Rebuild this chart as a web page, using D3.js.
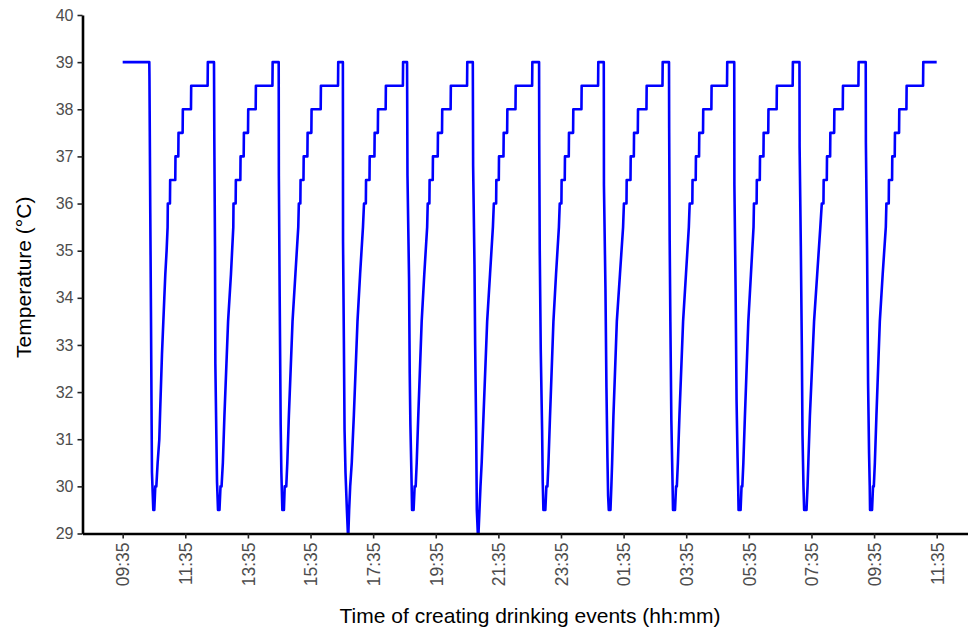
<!DOCTYPE html>
<html>
<head>
<meta charset="utf-8">
<script src="https://cdn.jsdelivr.net/npm/d3@7"></script>
<style>
  body { margin: 0; background: #fff; }
  text { font-family: "Liberation Sans", Arial, Helvetica, sans-serif; }
</style>
</head>
<body>
<svg id="chart" width="968" height="630"></svg>
<script>
// Body temperature around repeated drinking events (cold water intake).
// First reading of the record.
const startClock = "09:35";
const startTemp = 39;

// Clock time of each drinking event (record crosses midnight once).
const eventClocks = ["10:26", "12:30", "14:34", "16:37", "18:40", "20:46",
                     "22:53", "00:57", "03:02", "05:07", "07:12", "09:19"];

// Readings after each event: [minutes after event, temperature °C].
const cycle01 = [[0,39],[0.3,38.7],[1.9,35.8],[3.2,33.7],[4.5,31.3],[5.1,30.3],[7.7,29.5],[9.6,29.5],[11.5,30],[13.5,30],[16,30.5],[19.2,31],[21.1,31.7],[24.3,32.8],[28.8,34],[30.7,34.5],[33.2,35],[35.1,35.5],[35.5,36],[39.6,36],[40,36.5],[49.8,36.5],[50.2,37],[55.6,37],[56,37.5],[63.9,37.5],[64.3,38],[79.9,38],[80.3,38.5],[111.8,38.5],[112.2,39]];
const cycle02 = [[0,39],[0.6,37.4],[1.9,35.1],[2.6,32.6],[4.5,31.1],[5.8,30.1],[7.7,29.5],[10.5,29.5],[12.5,30],[14.5,30],[17,30.5],[20,31.5],[27,33.5],[32.5,34.5],[37,35.5],[37.4,36],[41.5,36],[41.9,36.5],[50.5,36.5],[50.9,37],[56.9,37],[57.3,37.5],[65.2,37.5],[65.6,38],[79.9,38],[80.3,38.5],[112,38.5],[112.4,39]];
const cycle03 = [[0,39],[0.3,36.6],[1.9,34.0],[3.8,31.3],[5.1,30.3],[7,29.5],[10,29.5],[11.5,30],[14.5,30],[16.5,30.5],[19.5,31.5],[26.5,33.5],[32,34.5],[37.5,35.5],[38.6,36],[41.5,36],[41.9,36.5],[47.5,36.5],[47.9,37],[55,37],[55.4,37.5],[62.6,37.5],[63,38],[80.5,38],[80.9,38.5],[113.7,38.5],[114.1,39]];
const cycle04 = [[0,39],[0.3,35.2],[1.9,33.1],[3.2,31.2],[5,30.3],[7.7,29.5],[9.6,29],[10.5,29],[12,29.5],[14,30],[17,30.5],[21,31.5],[28,33.5],[33,34.5],[38.5,35.5],[40.5,36],[44,36],[44.4,36.5],[51,36.5],[51.4,37],[60.5,37],[60.9,37.5],[67,37.5],[67.4,38],[82,38],[82.4,38.5],[115,38.5],[115.4,39]];
const cycle05 = [[0,39],[0.8,36.6],[3.8,34.4],[5.1,32.4],[6.4,31.3],[8.3,30.3],[9.6,29.5],[12.5,29.5],[14.5,30],[16.5,30],[18.5,30.5],[21.5,31.5],[28,33.5],[33,34.5],[38.5,35.5],[39.6,36],[42.8,36],[43.2,36.5],[49.2,36.5],[49.6,37],[58.8,37],[59.2,37.5],[67,37.5],[67.4,38],[83.5,38],[83.9,38.5],[115,38.5],[115.4,39]];
const cycle06 = [[0,39],[0.6,36.8],[3.2,34.7],[4.5,33.0],[6.4,31.2],[7.7,29.5],[9.6,29],[10.9,29],[12.8,29.5],[14.7,30],[17,30.5],[20.5,31.5],[27.5,33.5],[33,34.5],[38.5,35.5],[40.3,36],[44.7,36],[45.1,36.5],[49.8,36.5],[50.2,37],[58.8,37],[59.2,37.5],[65.8,37.5],[66.2,38],[81.8,38],[82.2,38.5],[113.7,38.5],[114.1,39]];
const cycle07 = [[0,39],[0.3,37.3],[1.3,35.0],[3.2,32.9],[5.8,31.2],[7,30.1],[8.3,29.5],[12,29.5],[14,30],[16,30],[18,30.5],[21,31.5],[27.5,33.5],[32.5,34.5],[38,35.5],[39.6,36],[42.8,36],[43.2,36.5],[49.2,36.5],[49.6,37],[56.9,37],[57.3,37.5],[65.2,37.5],[65.6,38],[81.2,38],[81.6,38.5],[113.1,38.5],[113.5,39]];
const cycle08 = [[0,39],[0.3,36.4],[3.2,34.2],[5.1,32.1],[7,30.6],[8.3,29.8],[9.6,29.5],[12.8,29.5],[14.5,30],[16,30.5],[18.5,31.5],[25,33.5],[31,34.5],[37,35.5],[38.6,36],[43.5,36],[43.9,36.5],[51.2,36.5],[51.6,37],[57.6,37],[58,37.5],[65.2,37.5],[65.6,38],[81.8,38],[82.2,38.5],[112.5,38.5],[112.9,39]];
const cycle09 = [[0,39],[0.3,37.6],[1.3,35.2],[2.6,33.5],[4.5,31.4],[6.4,30.3],[7.7,29.5],[11.5,29.5],[13.5,30],[15,30],[17,30.5],[20,31.5],[27,33.5],[32.5,34.5],[38,35.5],[39.6,36],[44.7,36],[45.1,36.5],[51.2,36.5],[51.6,37],[57.6,37],[58,37.5],[65.2,37.5],[65.6,38],[81.2,38],[81.6,38.5],[111.2,38.5],[111.6,39]];
const cycle10 = [[0,39],[0.3,36.4],[2.6,34.2],[4.5,31.8],[6.4,30.6],[7.7,29.9],[8.3,29.5],[12.2,29.5],[14,30],[15.5,30],[17.5,30.5],[20.5,31.5],[27,33.5],[32,34.5],[37,35.5],[37.8,36],[42.9,36],[43.3,36.5],[49,36.5],[49.4,37],[56,37],[56.4,37.5],[65.2,37.5],[65.6,38],[81.3,38],[81.7,38.5],[112,38.5],[112.4,39]];
const cycle11 = [[0,39],[0.3,37.2],[2.6,35.1],[4.5,33.0],[5.8,31.1],[7.7,30.0],[9,29.5],[13.5,29.5],[15.5,30],[17,30.5],[20,31.5],[28,33.5],[34,34.5],[40,35.5],[42.8,36],[46,36],[46.4,36.5],[52.4,36.5],[52.8,37],[58.8,37],[59.2,37.5],[66.5,37.5],[66.9,38],[83,38],[83.4,38.5],[113,38.5],[113.4,39]];
const cycle12 = [[0,39],[0.3,37.3],[2.6,35.0],[4.5,32.2],[6.4,30.7],[7.7,30.0],[8.3,29.5],[12.1,29.5],[14,30],[15.5,30],[17.5,30.5],[20.5,31.5],[27,33.5],[32.5,34.5],[38.5,35.5],[39.6,36],[44.1,36],[44.5,36.5],[50.5,36.5],[50.9,37],[55.6,37],[56,37.5],[63.9,37.5],[64.3,38],[78,38],[78.4,38.5],[109.9,38.5],[110.3,39],[136,39]];

const cycles = [cycle01, cycle02, cycle03, cycle04, cycle05, cycle06,
                cycle07, cycle08, cycle09, cycle10, cycle11, cycle12];

// Axis ticks
const xTickLabels = ["09:35", "11:35", "13:35", "15:35", "17:35", "19:35", "21:35",
                     "23:35", "01:35", "03:35", "05:35", "07:35", "09:35", "11:35"];
const yTickValues = [29, 30, 31, 32, 33, 34, 35, 36, 37, 38, 39, 40];

// Turn a list of "HH:MM" clock strings into dates, rolling over at midnight.
function clockSeries(labels) {
  let day = 0, prev = -1;
  return labels.map(s => {
    const [h, m] = s.split(":").map(Number);
    const mins = h * 60 + m;
    if (mins < prev) day += 1;
    prev = mins;
    return new Date(2024, 0, 1 + day, h, m);
  });
}

const allClocks = clockSeries([startClock, ...eventClocks]);
const startDate = allClocks[0];
const eventDates = allClocks.slice(1);
const xTickDates = clockSeries(xTickLabels);

const points = [{ t: startDate, v: startTemp }];
eventDates.forEach((d, i) => {
  cycles[i].forEach(([min, v]) => points.push({ t: new Date(+d + min * 60000), v }));
});

const W = 968, H = 630;
const plot = { left: 82.5, right: 968, top: 15, bottom: 533.5 };

const svg = d3.select("#chart");
svg.append("rect").attr("width", W).attr("height", H).attr("fill", "#fff");

const x = d3.scaleTime()
  .domain([new Date(2024, 0, 1, 8, 18), new Date(2024, 0, 2, 12, 35)])
  .range([plot.left, plot.right]);
const y = d3.scaleLinear().domain([29, 40]).range([plot.bottom, plot.top]);

// Temperature trace
const line = d3.line().x(d => x(d.t)).y(d => y(d.v));
svg.append("path")
  .datum(points)
  .attr("d", line)
  .attr("fill", "none")
  .attr("stroke", "#0000ff")
  .attr("stroke-width", 2.6)
  .attr("stroke-linejoin", "round");

// Y axis
const yAxis = svg.append("g")
  .attr("transform", `translate(${plot.left},0)`)
  .call(d3.axisLeft(y).tickValues(yTickValues).tickFormat(d3.format("d"))
        .tickSize(5).tickSizeOuter(0).tickPadding(4));
yAxis.select(".domain").attr("stroke", "#000").attr("stroke-width", 2.6);
yAxis.selectAll(".tick line").attr("stroke", "#222").attr("stroke-width", 1.6);
yAxis.selectAll(".tick text")
  .attr("fill", "#4d4d4d").style("font-size", "16px");

// X axis
const xAxis = svg.append("g")
  .attr("transform", `translate(0,${plot.bottom})`)
  .call(d3.axisBottom(x).tickValues(xTickDates).tickFormat(d3.timeFormat("%H:%M"))
        .tickSize(5).tickSizeOuter(0).tickPadding(4));
xAxis.select(".domain").attr("stroke", "#000").attr("stroke-width", 2.6);
xAxis.selectAll(".tick line").attr("stroke", "#222").attr("stroke-width", 1.6);
xAxis.selectAll(".tick text")
  .attr("fill", "#4d4d4d").style("font-size", "17.5px")
  .attr("transform", "rotate(-90)")
  .attr("text-anchor", "end")
  .attr("x", -9)
  .attr("y", 0)
  .attr("dy", "0.36em");

// Axis titles
svg.append("text")
  .attr("x", 530).attr("y", 623)
  .attr("text-anchor", "middle")
  .attr("fill", "#000")
  .style("font-size", "21px")
  .text("Time of creating drinking events (hh:mm)");

svg.append("text")
  .attr("transform", `translate(30.5,${(plot.top + plot.bottom) / 2 + 3}) rotate(-90)`)
  .attr("text-anchor", "middle")
  .attr("fill", "#000")
  .style("font-size", "21px")
  .text("Temperature (°C)");
</script>
</body>
</html>
